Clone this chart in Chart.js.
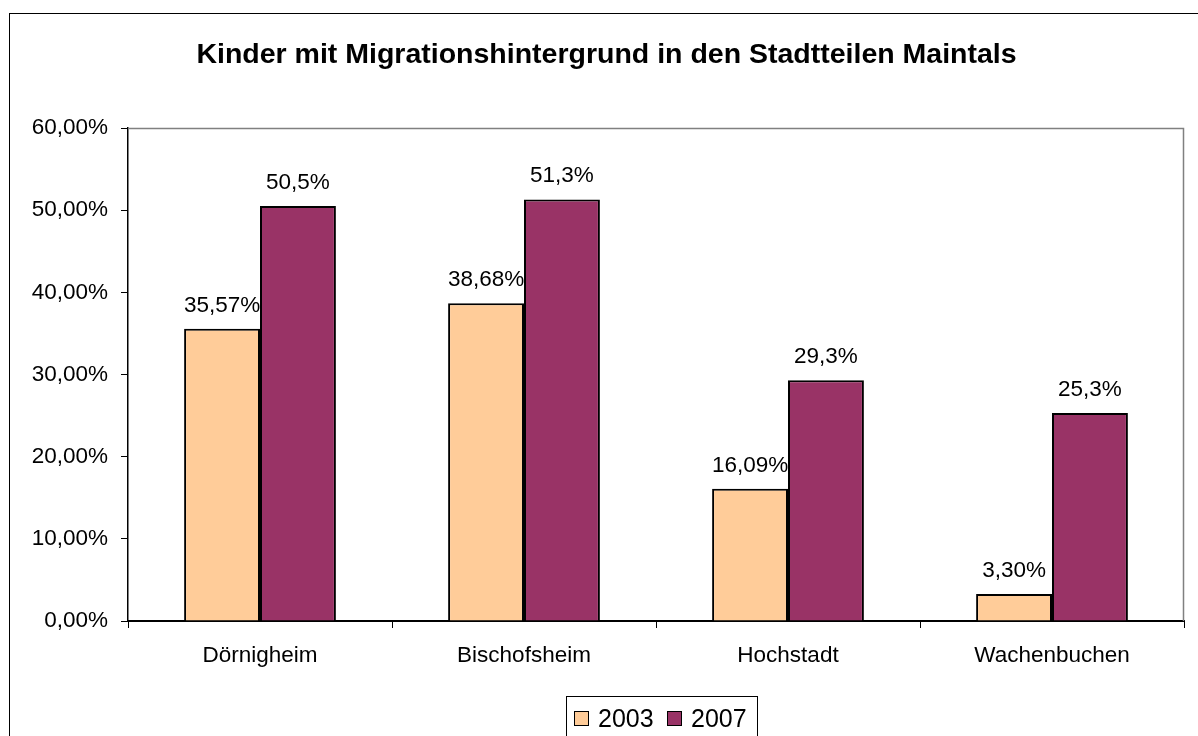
<!DOCTYPE html>
<html>
<head>
<meta charset="utf-8">
<script src="https://cdn.jsdelivr.net/npm/chart.js@4/dist/chart.umd.min.js"></script>
<style>
html,body{margin:0;padding:0;background:#fff;}
#wrap{width:1198px;height:736px;position:relative;}
</style>
</head>
<body>
<div id="wrap"><canvas id="c" width="1198" height="736"></canvas></div>
<script>
const titleText = "Kinder mit Migrationshintergrund in den Stadtteilen Maintals";
const categories = ["Dörnigheim", "Bischofsheim", "Hochstadt", "Wachenbuchen"];
const values2003 = [35.57, 38.68, 16.09, 3.30];
const values2007 = [50.5, 51.3, 29.3, 25.3];
const labelDecimals = [2, 1];
const seriesNames = ["2003", "2007"];
const yTicks = [0, 10, 20, 30, 40, 50, 60];

const FONT = "'Liberation Sans', Arial, sans-serif";

function fmt(v, d) { return v.toFixed(d).replace('.', ',') + '%'; }

const decorPlugin = {
  id: 'decor',
  beforeDatasetsDraw(chart) {
    const ctx = chart.ctx, a = chart.chartArea;
    ctx.save();
    ctx.strokeStyle = '#808080';
    ctx.lineWidth = 1.5;
    ctx.beginPath();
    ctx.moveTo(a.left, a.top + 0.5);
    ctx.lineTo(a.right - 0.5, a.top + 0.5);
    ctx.lineTo(a.right - 0.5, a.bottom);
    ctx.stroke();
    ctx.restore();
  },
  afterDraw(chart) {
    const ctx = chart.ctx;
    ctx.save();
    // outer frame
    ctx.strokeStyle = '#000';
    ctx.lineWidth = 1;
    ctx.strokeRect(9.5, 13.5, 1198, 736);
    // title
    ctx.fillStyle = '#000';
    ctx.font = "bold 28.5px " + FONT;
    ctx.textAlign = 'center';
    ctx.textBaseline = 'alphabetic';
    ctx.fillText(titleText, 606.5, 63);
    // data labels
    ctx.font = "22.5px " + FONT;
    chart.data.datasets.forEach((ds, i) => {
      const meta = chart.getDatasetMeta(i);
      meta.data.forEach((bar, j) => {
        ctx.fillText(fmt(ds.data[j], labelDecimals[i]), bar.x, bar.y - 17);
      });
    });
    // legend
    ctx.strokeStyle = '#000';
    ctx.lineWidth = 1;
    ctx.strokeRect(566.5, 696.5, 191, 60);
    ctx.font = "25px " + FONT;
    ctx.textAlign = 'left';
    const items = [{x: 574}, {x: 667}];
    chart.data.datasets.forEach((ds, i) => {
      const x = items[i].x;
      ctx.fillStyle = ds.backgroundColor;
      ctx.fillRect(x, 711, 15, 15);
      ctx.strokeStyle = '#000';
      ctx.strokeRect(x + 0.5, 711.5, 14, 14);
      ctx.fillStyle = '#000';
      ctx.fillText(ds.label, x + 24, 727);
    });
    ctx.restore();
  }
};

new Chart(document.getElementById('c'), {
  type: 'bar',
  data: {
    labels: categories,
    datasets: [
      { label: seriesNames[0], data: values2003, backgroundColor: '#FFCC99', borderColor: '#000', borderWidth: 2, borderSkipped: 'bottom' },
      { label: seriesNames[1], data: values2007, backgroundColor: '#993366', borderColor: '#000', borderWidth: 2, borderSkipped: 'bottom' }
    ]
  },
  options: {
    responsive: false,
    animation: false,
    devicePixelRatio: 1,
    layout: { padding: { left: 0, top: 128, right: 14, bottom: 0 } },
    plugins: { legend: { display: false }, title: { display: false }, tooltip: { enabled: false } },
    datasets: { bar: { categoryPercentage: 0.575, barPercentage: 1.0 } },
    scales: {
      x: {
        grid: { display: true, drawOnChartArea: false, offset: true, tickLength: 7, color: '#000' },
        border: { display: true, color: '#000', width: 2 },
        ticks: { color: '#000', font: { family: FONT, size: 22.5 }, padding: 14, maxRotation: 0 },
        afterFit(s) { s.height = 115; }
      },
      y: {
        min: 0, max: 60,
        afterBuildTicks(s) { s.ticks = yTicks.map(v => ({ value: v })); },
        grid: { display: true, drawOnChartArea: false, tickLength: 7, color: '#000' },
        border: { display: true, color: '#000', width: 1.5 },
        ticks: { color: '#000', font: { family: FONT, size: 22.5 }, padding: 13, callback: v => fmt(v, 2) },
        afterFit(s) { s.width = 128; }
      }
    }
  },
  plugins: [decorPlugin]
});
</script>
</body>
</html>
